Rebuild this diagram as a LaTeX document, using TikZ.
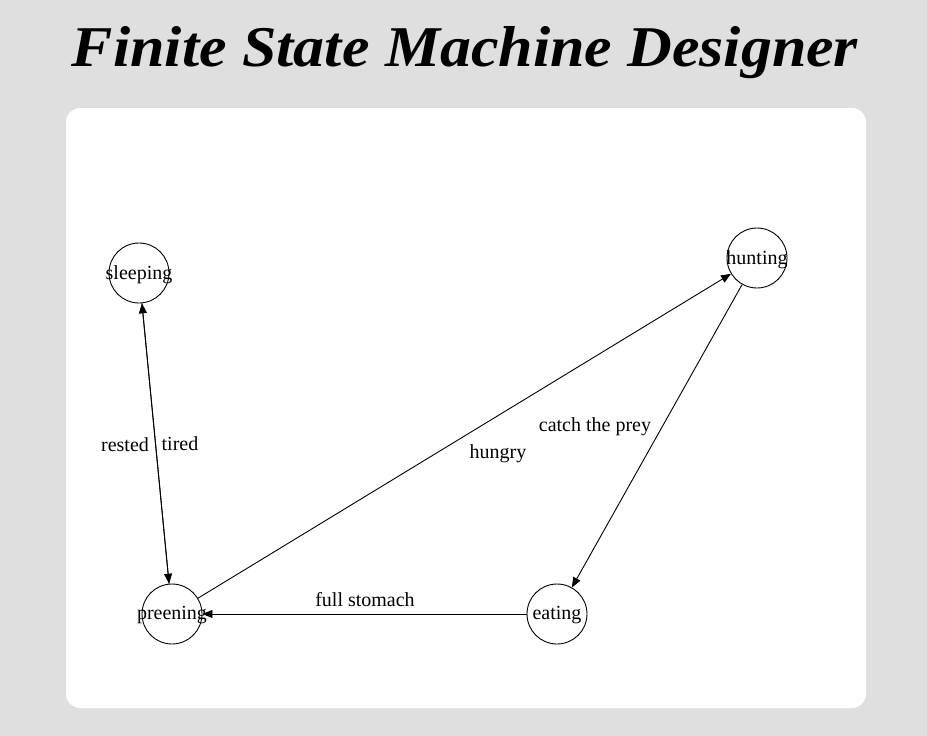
\documentclass[tikz,border=0pt]{standalone}
\usepackage{fontspec}
\setmainfont{Liberation Serif}
\usetikzlibrary{arrows.meta}
\definecolor{bggray}{HTML}{DFDFDF}
\tikzset{
  statenode/.style={draw, circle, minimum size=60pt, inner sep=0pt, line width=0.9pt},
  edge/.style={line width=0.9pt, -{Triangle[length=10pt,width=8pt]}},
  lbl/.style={font=\fontsize{20}{20}\selectfont, inner sep=0pt, anchor=base}
}
\begin{document}
\begin{tikzpicture}[x=1pt,y=-1pt]
\fill[bggray] (0,0) rectangle (927,736);
\useasboundingbox (0,0) rectangle (927,736);
\fill[white, rounded corners=14pt] (66,108) rectangle (866,708);
\node[font=\bfseries\itshape, anchor=base, inner sep=0pt] (title) at (465,66) {\resizebox{786pt}{40pt}{Finite State Machine Designer}};
\node[statenode] (sleeping) at (139,273) {};
\node[statenode] (hunting) at (757,258) {};
\node[statenode] (preening) at (172,614) {};
\node[statenode] (eating) at (557,614) {};
\node[lbl] (sleepingtext) at (139,279) {sleeping};
\node[lbl] (huntingtext) at (757,264) {hunting};
\node[lbl] (preeningtext) at (172,619) {preening};
\node[lbl] (eatingtext) at (557,619) {eating};
\draw[edge] (preening) -- (sleeping);
\draw[edge] (sleeping) -- (preening);
\draw[edge] (preening) -- (hunting);
\draw[edge] (hunting) -- (eating);
\draw[edge] (eating) -- (preening);
\node[lbl] (rested) at (125,451) {rested};
\node[lbl] (tired) at (180,450) {tired};
\node[lbl] (hungry) at (498,458) {hungry};
\node[lbl] (prey) at (595,431) {catch the prey};
\node[lbl] (full) at (365,606) {full stomach};
\end{tikzpicture}
\end{document}
